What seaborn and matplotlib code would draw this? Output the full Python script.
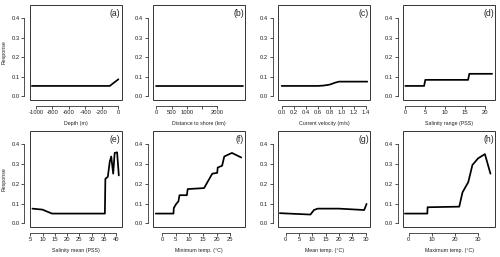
import matplotlib
matplotlib.use("Agg")
import matplotlib.pyplot as plt
from matplotlib.patches import Rectangle
import seaborn as sns

# response curves, values
depth_x = [-1050, -100, 5]
depth_y = [0.054, 0.054, 0.088]

dist_x = [0, 2830]
dist_y = [0.054, 0.054]

vel_x = [0.0, 0.6, 0.7, 0.8, 0.88, 0.95, 1.42]
vel_y = [0.054, 0.054, 0.056, 0.061, 0.070, 0.076, 0.076]

salr_x = [0, 4.7, 5.0, 15.7, 16.0, 21.7]
salr_y = [0.054, 0.054, 0.085, 0.085, 0.116, 0.116]

salm_x = [5.8, 9.9, 11.8, 13.8, 35.4, 35.6, 36.6, 37.4, 38.0, 38.8, 39.4, 40.4, 41.1]
salm_y = [0.075, 0.070, 0.060, 0.050, 0.050, 0.226, 0.236, 0.313, 0.339, 0.252, 0.357, 0.360, 0.243]

tmin_x = [-2.3, 4.2, 4.3, 5.2, 6.0, 6.4, 9.1, 9.4, 15.4, 18.4, 20.2, 20.4, 22.0, 22.8, 25.6, 29.0]
tmin_y = [0.050, 0.050, 0.078, 0.099, 0.112, 0.143, 0.143, 0.174, 0.179, 0.252, 0.256, 0.283, 0.292, 0.339, 0.357, 0.334]

tmean_x = [-2.2, 9.3, 10.6, 12.0, 20.0, 29.5, 30.4]
tmean_y = [0.052, 0.045, 0.068, 0.075, 0.075, 0.068, 0.099]

tmax_x = [-1.7, 8.0, 8.1, 21.8, 23.2, 24.0, 25.7, 27.5, 30.0, 32.9, 35.3]
tmax_y = [0.050, 0.050, 0.082, 0.085, 0.157, 0.174, 0.209, 0.296, 0.330, 0.351, 0.252]

panels = [
    (depth_x, depth_y, "Depth (m)", (-1073, 49), list(range(-1000, 1, 200)), None),
    (dist_x, dist_y, "Distance to shore (km)", (-97, 2917), [0, 500, 1000, 1500, 2000],
     ["0", "500", "1000", "", "2000"]),
    (vel_x, vel_y, "Current velocity (m/s)", (-0.056, 1.47),
     [0.0, 0.2, 0.4, 0.6, 0.8, 1.0, 1.2, 1.4], ["0.0", "0.2", "0.4", "0.6", "0.8", "1.0", "1.2", "1.4"]),
    (salr_x, salr_y, "Salinity range (PSS)", (-0.5, 22.5), [0, 5, 10, 15, 20], None),
    (salm_x, salm_y, "Salinity mean (PSS)", (4.8, 42.4), [5, 10, 15, 20, 25, 30, 35, 40], None),
    (tmin_x, tmin_y, "Minimum temp. (°C)", (-3.2, 30.5), [0, 5, 10, 15, 20, 25], None),
    (tmean_x, tmean_y, "Mean temp. (°C)", (-2.8, 31.8), [0, 5, 10, 15, 20, 25, 30], None),
    (tmax_x, tmax_y, "Maximum temp. (°C)", (-2.4, 37.4), [0, 10, 20, 30], None),
]
letters = ["(a)", "(b)", "(c)", "(d)", "(e)", "(f)", "(g)", "(h)"]

sns.set_style("white")
plt.rcParams["font.family"] = ["Liberation Sans", "DejaVu Sans"]
plt.rcParams["axes.unicode_minus"] = False

W, H = 500, 257
fig = plt.figure(figsize=(5, 2.57), dpi=100)
lefts = [30, 153.3, 278.3, 403.3]
rows = [(5, 100), (131, 227)]

frame_col = "#333333"
for i, (x, y, xlab, xlim, xt, xtl) in enumerate(panels):
    r, c = divmod(i, 4)
    top, bot = rows[r]
    ax = fig.add_axes([lefts[c] / W, 1 - bot / H, 92 / W, (bot - top) / H])
    sns.lineplot(x=x, y=y, ax=ax, color="black", linewidth=1.25,
                 estimator=None, sort=False)
    ax.set_xlim(*xlim)
    ax.set_ylim(-0.018, 0.468)
    ax.set_xticks(xt)
    if xtl is not None:
        ax.set_xticklabels(xtl)
    yt = [0.0, 0.1, 0.2, 0.3, 0.4]
    ax.set_yticks(yt)
    ax.set_yticklabels(["0.0", "0.1", "0.2", "0.3", "0.4"], rotation=90, va="center")

    for s in ["top", "right"]:
        ax.spines[s].set_visible(False)
    for s in ["bottom", "left"]:
        ax.spines[s].set_position(("outward", 4))
        ax.spines[s].set_linewidth(0.6)
        ax.spines[s].set_color(frame_col)
    ax.spines["bottom"].set_bounds(xt[0], xt[-1])
    ax.spines["left"].set_bounds(0.0, 0.4)
    ax.add_patch(Rectangle((0, 0), 1, 1, transform=ax.transAxes, fill=False,
                           lw=0.7, edgecolor=frame_col, clip_on=False))
    ax.tick_params(axis="both", length=2, width=0.6, color=frame_col,
                   labelsize=4.2, pad=1.2, bottom=True, left=True, labelcolor="#222222")

    ax.set_xlabel(xlab, fontsize=3.8, labelpad=4, color="#222222")
    if c == 0:
        ax.set_ylabel("Response", fontsize=3.8, labelpad=4, color="#222222")
    else:
        ax.set_ylabel("")
    ax.text(0.985, 0.96, letters[i], transform=ax.transAxes, ha="right", va="top",
            fontsize=6.2, color="#222222")

fig.savefig("out.png", dpi=100)
